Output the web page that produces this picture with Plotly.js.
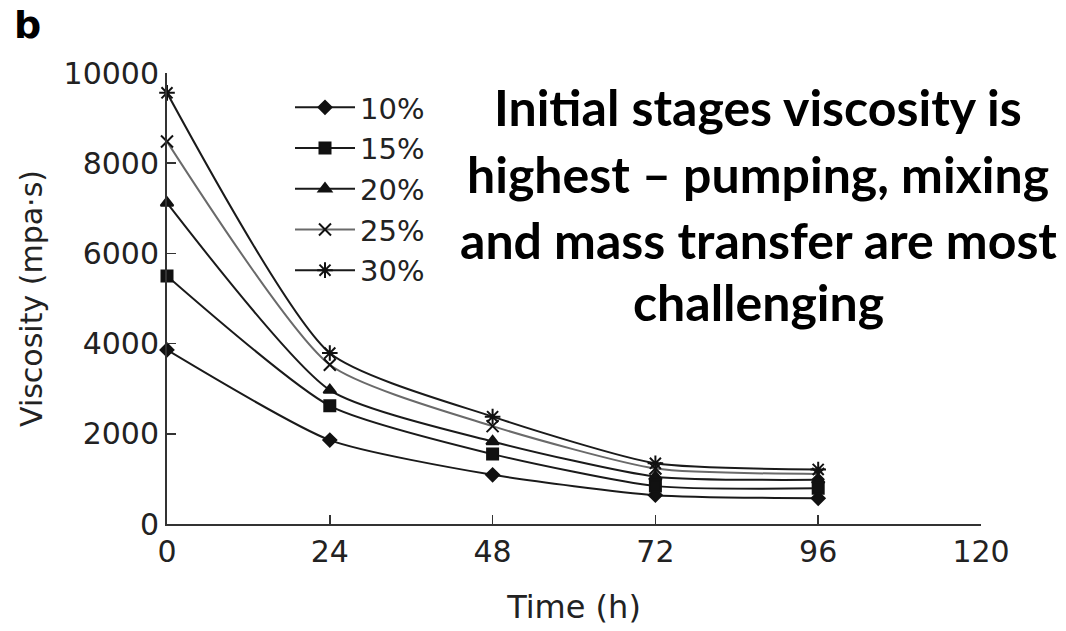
<!DOCTYPE html>
<html>
<head>
<meta charset="utf-8">
<script src="https://cdn.plot.ly/plotly-3.0.1.min.js"></script>
<style>html,body{margin:0;padding:0;background:#fff;} #chart{width:1066px;height:631px;}</style>
</head>
<body>
<div id="chart"></div>
<script>
const timeHours = [0, 24, 48, 72, 96];
const seriesNames = ["10%", "15%", "20%", "25%", "30%"];
const visc10 = [3860, 1860, 1090, 640, 570];
const visc15 = [5500, 2620, 1550, 840, 790];
const visc20 = [7120, 2970, 1830, 1050, 980];
const visc25 = [8480, 3530, 2170, 1230, 1110];
const visc30 = [9560, 3790, 2380, 1345, 1210];
const xTickVals = [0, 24, 48, 72, 96, 120];
const yTickVals = [0, 2000, 4000, 6000, 8000, 10000];
const noteLines = ["Initial stages viscosity is", "highest \u2013 pumping, mixing", "and mass transfer are most", "challenging"];

const seriesData = [visc10, visc15, visc20, visc25, visc30];
const markerSymbols = ["diamond", "square", "triangle-up", "x-thin-open", "asterisk-open"];
const markerSizes = [10, 11, 11, 12, 13];
const lineColors = ["#1a1a1a", "#1a1a1a", "#1a1a1a", "#6a6a6a", "#1a1a1a"];

const traces = seriesData.map((vals, i) => ({
  x: timeHours,
  y: vals,
  name: seriesNames[i],
  type: "scatter",
  mode: "lines+markers",
  cliponaxis: false,
  line: {color: lineColors[i], width: 2, shape: "spline", smoothing: 0.6},
  marker: {symbol: markerSymbols[i], size: markerSizes[i], color: "#111",
           line: {color: "#111", width: 2}},
  legendgroup: "g" + i
}));

const noteY = [107, 174, 240, 302];
const annotations = noteLines.map((t, i) => ({
  text: "<b>" + t + "</b>",
  xref: "paper", yref: "paper",
  x: (758 - 167) / 814, y: (524 - noteY[i]) / 451,
  xanchor: "center", yanchor: "middle",
  showarrow: false,
  font: {family: "Lato, 'Open Sans', sans-serif", size: 50, color: "#000"}
}));
annotations.push({
  text: "<b>b</b>", xref: "paper", yref: "paper",
  x: (12 - 167) / 814, y: (524 - 25) / 451,
  xanchor: "left", yanchor: "middle", showarrow: false,
  font: {family: "DejaVu Sans", size: 38, color: "#000"}
});

const tickFont = {family: "DejaVu Sans, sans-serif", size: 30, color: "#222"};

const layout = {
  width: 1066, height: 631,
  margin: {l: 167, r: 85, t: 73, b: 107, pad: 0},
  paper_bgcolor: "#fff", plot_bgcolor: "#fff",
  showlegend: true,
  legend: {
    x: (290 - 167) / 814, y: (524 - 82) / 451,
    xanchor: "left", yanchor: "top",
    bgcolor: "rgba(0,0,0,0)",
    font: {family: "DejaVu Sans, sans-serif", size: 29, color: "#222"},
    traceorder: "grouped", tracegroupgap: 0,
    itemwidth: 60
  },
  xaxis: {
    range: [0, 120], tickvals: xTickVals, ticktext: xTickVals.map(String),
    showgrid: false, zeroline: false,
    showline: true, linecolor: "#333", linewidth: 2,
    ticks: "inside", ticklen: 9, tickwidth: 1.5, tickcolor: "#333",
    tickfont: tickFont,
    title: {text: "Time (h)", font: {family: "DejaVu Sans, sans-serif", size: 32, color: "#222"}, standoff: 28}
  },
  yaxis: {
    range: [0, 10000], tickvals: yTickVals, ticktext: yTickVals.map(String),
    showgrid: false, zeroline: false,
    showline: true, linecolor: "#333", linewidth: 2,
    ticks: "inside", ticklen: 9, tickwidth: 1.5, tickcolor: "#333",
    tickfont: tickFont,
    title: {text: "Viscosity (mpa\u00b7s)", font: {family: "DejaVu Sans, sans-serif", size: 30, color: "#222"}, standoff: 12}
  },
  annotations: annotations
};

Plotly.newPlot("chart", traces, layout, {displayModeBar: false, staticPlot: true});
</script>
</body>
</html>
